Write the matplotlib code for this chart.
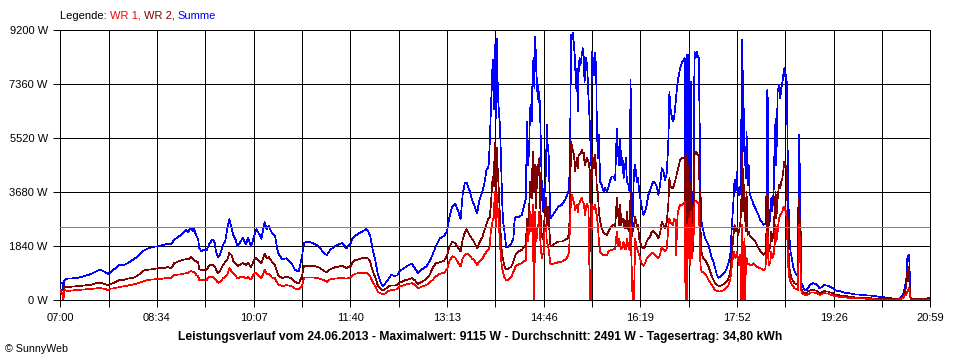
import matplotlib
matplotlib.use("Agg")
import matplotlib.pyplot as plt
import numpy as np

plt.rcParams['font.family'] = ['Liberation Sans', 'DejaVu Sans']

# ---------------- data (minutes after 07:00, watts) ----------------
minutes = [
    0, 2, 3, 4, 7, 10, 17, 23, 30, 36, 39, 43, 46, 49, 52, 57, 62, 65, 70, 75,
    80, 84, 89, 94, 99, 104, 107, 110, 115, 118, 121, 123, 126, 128, 129, 131, 133, 134, 136, 139,
    141, 144, 147, 149, 150, 152, 154, 157, 159, 161, 163, 165, 167, 169, 171, 173, 176, 179, 181, 184,
    187, 189, 192, 194, 197, 199, 201, 204, 207, 210, 214, 218, 223, 226, 230, 233, 235, 239, 244, 249,
    254, 257, 260, 265, 272, 276, 280, 282, 284,
    288, 291, 295, 297, 299, 301, 304, 306, 309, 311, 313, 317, 319, 322, 325, 327, 330, 333, 336, 339,
    342, 345, 349, 353, 356, 359, 362, 366, 370, 373,
    375, 378, 381, 384, 386, 388, 390, 392, 395, 397, 399, 402, 404, 407, 409, 411, 413, 414, 415, 416, 417,
    418, 419, 420, 421, 422, 423, 424, 425, 426, 427, 428, 429, 430, 432, 435, 437, 438, 439, 442, 445, 447, 449,
    450.0, 450.8, 452.1, 453.0, 454.0, 454.6, 455.6, 456.6, 457.2, 457.8, 458.8, 459.5, 460.1, 461.1, 462.0,
    463.0, 464.3, 465.2, 466.2, 466.9, 467.5, 468.5, 469.1, 470.1, 470.7, 471.7, 472.7, 474.0, 477.2, 480.4,
    483.6, 486.8, 489.4, 490.7,
    491.7, 492.6, 493.6, 494.5, 495.5, 496.5, 497.1, 498.1, 499.1, 499.7, 500.7, 501.6, 502.9, 503.9, 504.9,
    505.5, 506.1, 507.1, 508.1, 509.4, 510.7, 511.9, 512.6, 513.2, 514.2, 514.8, 515.8, 516.8, 517.4, 518.4,
    519.4, 520.6, 522.2, 523.9, 525.5, 527.1, 528.7, 530.3, 531.9, 533.5, 535.1, 536.7, 537.7, 539.0, 540.0,
    540.9, 542.2, 543.2, 544.1, 545.4, 546.4, 548.0, 549.0, 550.0, 550.6, 551.9, 553.2, 554.4, 556.1, 557.0, 558.3,
    560.7, 562.3, 563.9, 565.5, 567.1, 568.8, 570.4, 572.0, 573.6, 575.2,
    576.8, 578.4, 580.0, 581.6, 583.3, 584.9, 586.5, 587.4, 588.1, 589.4,
    590.7, 591.9, 593.2, 593.9, 595.2, 596.5, 597.7, 599.3, 601.0, 602.2,
    602.9, 603.5, 604.2, 604.8, 605.8, 606.4, 607.4, 608.1, 609.0, 610.0,
    610.6, 611.6, 612.6, 613.8, 614.8, 615.8, 616.4, 617.1, 617.7, 618.7,
    620.3, 621.9, 623.5, 625.1, 626.7, 628.3, 629.9, 631.5, 633.2, 634.8,
    636.4, 638.0, 639.6, 641.2, 642.8, 644.4, 646.1, 647.7, 649.3, 650.2,
    651.2, 652.5, 653.4, 654.4, 655.7, 656.7, 657.3, 658.0, 658.6, 659.2,
    659.9, 660.5, 661.2, 661.8, 662.8, 663.8, 664.7, 666.0, 667.3, 668.6,
    670.2, 671.8, 673.4, 675.0, 676.6, 678.2, 679.9, 680.8, 681.5, 682.1,
    682.8, 683.4, 684.7, 685.7, 686.6, 687.9, 688.9, 689.8, 690.5, 691.8,
    693.1, 694.3, 695.3, 696.3, 697.2, 698.2, 699.2,
    700.0, 700.7, 701.3, 701.9, 702.6, 703.2, 704.2, 705.5, 706.8, 708.1,
    709.7, 711.3, 711.9, 712.6, 713.2, 713.9, 714.5, 715.5, 716.8, 718.4,
    719.7, 721.0, 722.6, 724.2, 725.8, 727.4, 729.0, 730.6, 732.2, 733.8,
    735.4, 737.0, 738.7, 740.3, 741.9, 743.5, 745.1, 746.7, 749.9, 753.1,
    756.4, 759.6, 762.8, 766.0, 769.2, 772.5, 775.7, 778.9, 782.1, 785.3,
    788.6, 791.8, 795.0, 798.2, 801.4, 804.7, 807.9, 809.5, 811.1, 812.7,
    814.3, 815.9, 816.9, 817.5, 818.2, 818.8, 819.5, 820.1, 822.4, 825.6,
    828.8, 832.0, 835.3, 836.9, 838.5,
]

summe = [
    580, 580, 350, 690, 740, 740, 770, 820, 900, 1010, 1040, 970, 890, 970, 1060, 1200, 1210, 1270, 1380, 1500,
    1680, 1760, 1820, 1840, 1890, 1920, 1910, 2070, 2190, 2270, 2390, 2320, 2470, 2360, 2420, 2210, 2070, 1780, 1670, 1730,
    1700, 1950, 2070, 1960, 1670, 1460, 1550, 1900, 2010, 2420, 2760, 2500, 2200, 2070, 1840, 1950, 2130, 1900, 2130, 1840,
    2190, 2420, 2240, 2100, 2670, 2420, 2530, 2300, 2200, 1610, 1400, 1430, 1270, 1050, 980, 1470, 1960, 2000, 1940, 1850,
    1610, 1540, 1700, 1860, 1950, 1770, 1950, 2130, 2190,
    2280, 2340, 2420, 2340, 2170, 1770, 1320, 920, 600, 490, 560, 750, 860, 830, 850, 980, 1060, 1130, 1200, 1240,
    1090, 920, 1060, 1150, 1320, 1550, 1830, 2110, 2190, 2340,
    2800, 3200, 3300, 3000, 2760, 3590, 3990, 4010, 3700, 3420, 3250, 2960, 3400, 3700, 3990, 4440, 4560, 5240, 6260, 7230, 8190,
    6500, 8700, 6200, 8900, 7000, 6400, 5980, 4840, 3480, 2680, 2450, 2110, 1800, 1830, 1940, 2110, 2680, 2850, 2820, 2910, 3190, 3480,
    6090, 4610, 5070, 6540, 6650, 6090, 8020, 8250, 7220, 8990, 8250, 7110, 7570, 6760, 7110,
    5980, 3930, 3080, 3020, 3930, 3700, 4610, 5980, 5070, 5300, 3930, 2790, 2850, 3020, 3190,
    3250, 3420, 3650, 3820,
    5520, 9040, 8900, 9100, 8590, 8130, 7220, 7900, 6430, 7680, 8250, 8020, 8360, 8590, 8250,
    7450, 7570, 8250, 7960, 6890, 5980, 4610, 8480, 8130, 8250, 7680, 8420, 7800, 5980, 4840,
    5640, 4040, 3930, 3700, 3820, 3700, 3870, 4100, 4220, 4220, 4100, 5860, 5070, 4610, 5460,
    4610, 4840, 4160, 4390, 4840, 4040, 3930, 3700, 7510, 2340, 2790, 4390, 4610, 4040, 4160, 3700,
    3190, 2910, 3020, 3250, 3590, 3760, 3930, 4040, 3990, 3870,
    3590, 3930, 4500, 4390, 4100, 4330, 5520, 7110, 6600, 6320,
    6090, 6200, 6660, 6940, 7400, 7680, 7910, 8080, 8190, 8250,
    1770, 4840, 8360, 1770, 7680, 8380, 2570, 7450, 1430, 3700,
    2570, 8480, 8250, 8480, 8300, 8250, 6430, 4840, 3020, 2570,
    2340, 2110, 2000, 1890, 1660, 1430, 1320, 1090, 860, 770,
    810, 840, 920, 980, 1090, 1260, 1550, 2570, 3480, 4100,
    3700, 4390, 3700, 3590, 3650, 5750, 8870, 8020, 5070, 6540,
    4610, 5180, 4160, 5750, 3930, 4610, 3700, 3480, 3420, 3250,
    3140, 3020, 2910, 2740, 2680, 2570, 2620, 3020, 7110, 7170,
    3700, 2570, 2790, 3480, 3020, 3700, 5410, 6200, 4610, 7110,
    7340, 6890, 7230, 7400, 7680, 7910, 7620,
    7680, 7340, 5520, 3700, 2790, 2110, 1660, 1430, 1150, 980,
    890, 840, 3930, 5640, 4330, 2570, 640, 520, 410, 350,
    350, 410, 500, 550, 580, 570, 550, 500, 410, 440,
    490, 520, 500, 500, 470, 440, 410, 350, 320, 300,
    260, 240, 230, 200, 200, 180, 180, 160, 160, 140,
    130, 110, 100, 90, 70, 50, 50, 70, 130, 200,
    410, 750, 1430, 1520, 1550, 1320, 520, 70, 50, 50,
    40, 50, 50, 90, 70,
]

wr2 = [
    350, 350, 380, 440, 450, 460, 480, 500, 530, 600, 590, 550, 510, 560, 600, 690, 700, 740, 760, 850,
    1010, 1040, 1060, 1090, 1100, 1130, 1090, 1270, 1340, 1380, 1400, 1390, 1470, 1420, 1380, 1320, 1300, 1060, 1040, 1040,
    1040, 1210, 1220, 1150, 1060, 920, 1000, 1210, 1300, 1380, 1610, 1550, 1320, 1270, 1170, 1200, 1270, 1210, 1270, 1130,
    1380, 1440, 1320, 1270, 1590, 1440, 1470, 1320, 1200, 860, 750, 810, 750, 630, 580, 810, 1170, 1170, 1170, 1130,
    1010, 940, 1050, 1130, 1170, 1100, 1170, 1290, 1360,
    1400, 1430, 1450, 1420, 1300, 1030, 750, 520, 380, 350, 370, 490, 500, 500, 520, 600, 640, 690, 720, 750,
    680, 560, 640, 720, 860, 1090, 1260, 1290, 1350, 1510,
    1800, 2000, 1940, 1770, 1660, 2060, 2300, 2420, 2190, 2100, 1990, 1770, 1950, 2150, 2400, 2600, 2800, 2800, 3140, 3700, 4220,
    3900, 5350, 3600, 5200, 4300, 3700, 2790, 2000, 1550, 1400, 1200, 1100, 1060, 1080, 1150, 1320, 1450, 1550, 1660, 1720, 1800, 1890,
    2790, 2340, 3020, 4040, 3500, 3480, 5070, 3700, 4000, 4610, 3140, 4000, 4610, 4260, 4840,
    3020, 2230, 2100, 2200, 2790, 3000, 3480, 2570, 3020, 3200, 2340, 1830, 1830, 1940, 2000,
    2000, 2060, 2110, 2340,
    3590, 5410, 5200, 5100, 4900, 4390, 4600, 4840, 4500, 4950, 4950, 5000, 5120, 5000, 5010,
    4700, 4610, 4800, 4840, 4730, 4390, 1660, 4950, 4840, 4840, 4500, 4950, 4390, 3800, 3700,
    3000, 2700, 2450, 2300, 2250, 2230, 2350, 2450, 2520, 2570, 2510, 3480, 3020, 2570, 3250,
    2570, 2790, 2790, 2450, 2450, 3020, 2340, 2500, 3700, 2100, 2340, 2570, 2850, 2500, 2570, 2100,
    1830, 1770, 1830, 2000, 2110, 2170, 2340, 2360, 2280, 2230,
    2110, 2280, 2680, 2570, 2450, 2680, 3360, 4160, 3930, 3820,
    3820, 3930, 4100, 4200, 4400, 4610, 4780, 4840, 4860, 4840,
    2110, 3700, 4950, 1200, 4610, 1430, 4000, 1430, 3250, 1660,
    2570, 4950, 5070, 5010, 4950, 4900, 3930, 3140, 2000, 1550,
    1430, 1380, 1260, 1150, 980, 810, 690, 580, 520, 500,
    490, 520, 550, 580, 640, 750, 980, 1660, 2230, 2570,
    2340, 2450, 2230, 2340, 2570, 3190, 5070, 4610, 3020, 3930,
    2680, 3480, 2340, 3700, 2230, 2340, 2200, 2170, 2110, 2060,
    2000, 1890, 1770, 1680, 1600, 1550, 1600, 2110, 3480, 3700,
    2000, 1660, 1890, 2340, 2000, 2340, 3020, 3700, 2790, 3480,
    3930, 3820, 4040, 4160, 4390, 4730, 4610,
    4560, 4270, 3020, 1890, 1430, 1090, 890, 730, 640, 580,
    550, 520, 2340, 3480, 2570, 1430, 410, 320, 270, 250,
    250, 300, 330, 350, 350, 340, 330, 300, 250, 270,
    300, 320, 300, 300, 270, 260, 240, 200, 180, 160,
    150, 130, 110, 100, 90, 80, 70, 70, 70, 50,
    50, 50, 50, 40, 40, 40, 40, 70, 70, 130,
    240, 520, 980, 1150, 1030, 640, 300, 50, 40, 40,
    40, 40, 40, 40, 40,
]

wr1 = [
    350, 200, 0, 350, 320, 330, 350, 370, 390, 410, 410, 390, 350, 400, 410, 450, 480, 500, 540, 580,
    640, 690, 710, 720, 740, 770, 760, 860, 880, 900, 920, 940, 1000, 960, 980, 870, 810, 690, 690, 690,
    690, 810, 790, 750, 690, 600, 630, 750, 800, 860, 1090, 1000, 900, 830, 750, 780, 810, 750, 790, 710,
    920, 920, 810, 750, 1040, 900, 900, 780, 750, 550, 480, 520, 480, 400, 370, 480, 770, 780, 780, 750,
    690, 630, 710, 740, 760, 740, 780, 850, 900,
    930, 940, 940, 900, 800, 640, 470, 300, 230, 220, 230, 330, 340, 360, 380, 470, 500, 530, 560, 580,
    540, 410, 470, 520, 600, 690, 810, 900, 940, 1060,
    1320, 1500, 1450, 1250, 1150, 1430, 1550, 1600, 1510, 1420, 1380, 1200, 1320, 1420, 1550, 1650, 1720, 1800, 2280, 2500, 2740,
    2800, 3700, 2500, 3600, 3000, 2570, 1890, 1430, 1090, 950, 810, 750, 690, 700, 800, 980, 1050, 1150, 1230, 1260, 1320, 1380,
    2340, 2000, 2340, 3020, 2340, 2340, 3250, 0, 0, 3020, 2000, 2110, 2500, 2570, 3020,
    1970, 1430, 1550, 1600, 2340, 2340, 2570, 2000, 1890, 1800, 1500, 1230, 1230, 1260, 1300,
    1320, 1380, 1490, 1660,
    2790, 3480, 3590, 3420, 3300, 3080, 3200, 3260, 3000, 3250, 3300, 3420, 3480, 3360, 3300,
    3100, 2900, 3200, 3300, 3140, 0, 0, 3250, 3200, 3190, 3100, 3250, 3000, 2900, 2570,
    2000, 1660, 1570, 1540, 1540, 1540, 1660, 1700, 1720, 1730, 1750, 2340, 1830, 2100, 1890,
    1750, 1800, 2000, 1750, 1750, 2100, 1830, 1700, 2570, 1660, 0, 0, 2110, 1760, 1660, 1550,
    1230, 1180, 1260, 1430, 1490, 1550, 1600, 1600, 1550, 1490,
    1430, 1550, 1830, 1720, 1660, 1770, 2570, 2790, 2680, 2600,
    2570, 2790, 2680, 1550, 2900, 3140, 3250, 3250, 3310, 3360,
    0, 2570, 0, 2570, 1430, 2790, 1200, 3020, 1430, 2570,
    2000, 3360, 3380, 3360, 3310, 3310, 2340, 1430, 1030, 980,
    950, 890, 810, 690, 610, 520, 430, 350, 320, 300,
    300, 320, 340, 390, 430, 520, 690, 1200, 1660, 1550,
    1430, 1660, 1430, 1200, 1550, 0, 2570, 0, 2000, 0,
    2110, 0, 1430, 1430, 1260, 1230, 1220, 1200, 1210, 1260,
    1200, 1150, 1110, 1090, 1070, 1030, 1090, 1430, 2340, 2230,
    1430, 1200, 1320, 1660, 1430, 1550, 1890, 2570, 2000, 2340,
    2790, 2910, 2960, 3020, 3140, 3190, 3080,
    3020, 2570, 1890, 1200, 920, 750, 640, 520, 470, 410,
    390, 350, 1430, 2570, 2000, 980, 350, 240, 200, 180,
    180, 200, 240, 270, 270, 260, 260, 230, 180, 200,
    230, 240, 230, 230, 200, 180, 160, 140, 130, 110,
    100, 90, 90, 80, 70, 60, 60, 50, 50, 30,
    30, 30, 30, 30, 30, 20, 20, 50, 50, 90,
    160, 200, 300, 350, 410, 300, 130, 20, 20, 20,
    20, 20, 20, 20, 20,
]

average_w = 2491
y_ticks = [0, 1840, 3680, 5520, 7360, 9200]
y_labels = ["0 W", "1840 W", "3680 W", "5520 W", "7360 W", "9200 W"]
x_labels = ["07:00", "08:34", "10:07", "11:40", "13:13", "14:46", "16:19", "17:52", "19:26", "20:59"]
total_minutes = 839
title = ("Leistungsverlauf vom 24.06.2013 - Maximalwert: 9115 W - "
         "Durchschnitt: 2491 W - Tagesertrag: 34,80 kWh")

# ---------------- figure ----------------
W, H = 960, 360
PX = 0.72  # one pixel in points at 100 dpi
fig = plt.figure(figsize=(W / 100, H / 100), dpi=100)
fig.patch.set_facecolor('white')
ax = fig.add_axes([60.3 / W, 1 - 300.3 / H, 870 / W, 270 / H])

t = np.array(minutes, dtype=float)
LW = 0.5
ax.plot(t, summe, color='#0000FF', lw=LW, antialiased=False, zorder=3)
ax.plot(t, wr2, color='#800000', lw=LW, antialiased=False, zorder=4)
ax.plot(t, wr1, color='#FF0000', lw=LW, antialiased=False, zorder=5)
ax.axhline(average_w, color='#808080', lw=PX, antialiased=False, zorder=6)

ax.set_xlim(0, total_minutes)
ax.set_ylim(0, 9200)

xt = np.linspace(0, total_minutes, 19)
ax.set_xticks(xt)
xl = []
for i in range(19):
    xl.append(x_labels[i // 2] if i % 2 == 0 else "")
ax.set_xticklabels(xl)
ax.set_yticks(y_ticks)
ax.set_yticklabels(y_labels)

ax.grid(True, color='black', lw=PX, zorder=1)
for gl in ax.get_xgridlines() + ax.get_ygridlines():
    gl.set_antialiased(False)
ax.set_axisbelow(True)
for s in ax.spines.values():
    s.set_color('black')
    s.set_linewidth(PX)
    s.set_antialiased(False)
ax.tick_params(axis='both', direction='out', length=5, width=PX, color='black',
               labelsize=8, labelcolor='black', pad=4)

# legend line at top (multi-coloured)
fig.canvas.draw()
renderer = fig.canvas.get_renderer()
x_pos = 60 / W
y_pos = 1 - 16 / H
parts = [("Legende: ", 'black'), ("WR 1, ", '#FF0000'), ("WR 2, ", '#800000'), ("Summe", '#0000FF')]
for txt, col in parts:
    tt = fig.text(x_pos, y_pos, txt, color=col, fontsize=8, ha='left', va='center')
    bb = tt.get_window_extent(renderer=renderer)
    x_pos += bb.width / W

fig.text(480 / W, 1 - 337 / H, title, fontsize=8.7, fontweight='bold', ha='center', va='center')
fig.text(5 / W, 1 - 349 / H, "\u00a9 SunnyWeb", fontsize=7.7, ha='left', va='center')

fig.savefig("out.png", dpi=100, facecolor='white')
